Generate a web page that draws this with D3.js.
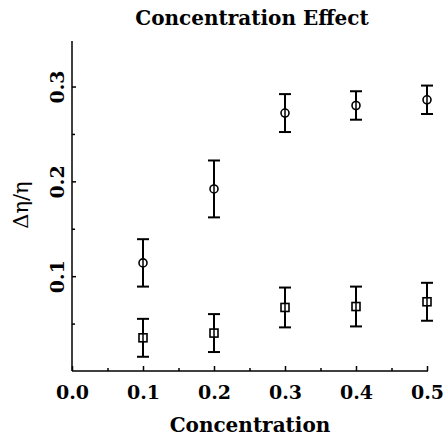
<!DOCTYPE html>
<html>
<head>
<meta charset="utf-8">
<script src="https://cdn.jsdelivr.net/npm/d3@7"></script>
<style>
	body { margin: 0; background: #fff; }
</style>
</head>
<body>
<div id="chart"></div>
<script>
// data
const concentrations = [0.1, 0.2, 0.3, 0.4, 0.5];
const circleValues = [0.114, 0.192, 0.272, 0.280, 0.286];
const circleErrors = [0.025, 0.030, 0.020, 0.015, 0.015];
const squareValues = [0.035, 0.040, 0.067, 0.068, 0.073];
const squareErrors = [0.020, 0.020, 0.021, 0.021, 0.020];
const xTicks = [0.0, 0.1, 0.2, 0.3, 0.4, 0.5];
const yTicks = [0.1, 0.2, 0.3];

const FONT = "'DejaVu Serif', serif";
const MARGIN = { LEFT: 72, RIGHT: 17, TOP: 41, BOTTOM: 67 };
const WIDTH = 445 - MARGIN.LEFT - MARGIN.RIGHT;
const HEIGHT = 438 - MARGIN.TOP - MARGIN.BOTTOM;

const svg = d3.select("#chart").append("svg")
	.attr("width", 445)
	.attr("height", 438)
	.attr("font-family", FONT);

const g = svg.append("g")
	.attr("transform", `translate(${MARGIN.LEFT}, ${MARGIN.TOP})`);

// scales
const x = d3.scaleLinear().domain([0, 0.5]).range([0, 355]);
const y = d3.scaleLinear().domain([0, 0.348]).range([HEIGHT, 0]);

// axes, ticks pointing inward
const xAxis = g.append("g")
	.attr("transform", `translate(0, ${HEIGHT})`)
	.call(d3.axisBottom(x).tickValues(xTicks).tickSize(-5).tickSizeOuter(0).tickFormat(d3.format(".1f")));
xAxis.select(".domain").attr("d", `M0,0H${WIDTH}`);
xAxis.selectAll(".tick text")
	.attr("y", 15)
	.attr("dy", "0.71em")
	.attr("font-size", "19px")
	.attr("font-weight", "bold");

const xMinor = g.append("g")
	.attr("transform", `translate(0, ${HEIGHT})`)
	.call(d3.axisBottom(x).tickValues([0.05, 0.15, 0.25, 0.35, 0.45]).tickSize(-3).tickSizeOuter(0).tickFormat(""));
xMinor.select(".domain").remove();

const yAxis = g.append("g")
	.call(d3.axisLeft(y).tickValues(yTicks).tickSize(-4).tickSizeOuter(0).tickFormat(d3.format(".1f")));
yAxis.select(".domain").attr("d", `M0,${HEIGHT}V0`);
yAxis.selectAll(".tick text")
	.attr("x", 0)
	.attr("dy", 0)
	.attr("text-anchor", "middle")
	.attr("transform", "rotate(-90)")
	.attr("y", -8)
	.attr("font-size", "19px")
	.attr("font-weight", "bold");

const yMinor = g.append("g")
	.call(d3.axisLeft(y).tickValues([0.05, 0.15, 0.25]).tickSize(-3).tickSizeOuter(0).tickFormat(""));
yMinor.select(".domain").remove();

g.selectAll("g").attr("font-family", FONT);
g.selectAll(".domain, .tick line")
	.attr("stroke", "#000")
	.attr("stroke-width", 1.5);

// title and labels
svg.append("text")
	.attr("x", 252)
	.attr("y", 25)
	.attr("text-anchor", "middle")
	.attr("font-size", "20px")
	.attr("font-weight", "bold")
	.text("Concentration Effect");

svg.append("text")
	.attr("x", 250)
	.attr("y", 432)
	.attr("text-anchor", "middle")
	.attr("font-size", "20px")
	.attr("font-weight", "bold")
	.text("Concentration");

svg.append("text")
	.attr("transform", "translate(28, 205) rotate(-90)")
	.attr("text-anchor", "middle")
	.attr("font-size", "21px")
	.text("Δη/η");

// error bars + markers
function drawSeries(values, errors, shape) {
	const data = concentrations.map((c, i) => ({ c: c, v: values[i], e: errors[i] }));
	const grp = g.append("g")
		.attr("stroke", "#000")
		.attr("stroke-width", 2)
		.attr("fill", "none");

	const bars = grp.selectAll(".bar").data(data).enter().append("g");
	bars.append("line")
		.attr("x1", d => x(d.c)).attr("x2", d => x(d.c))
		.attr("y1", d => y(d.v - d.e)).attr("y2", d => y(d.v + d.e));
	bars.append("line")
		.attr("x1", d => x(d.c) - 6).attr("x2", d => x(d.c) + 6)
		.attr("y1", d => y(d.v + d.e)).attr("y2", d => y(d.v + d.e));
	bars.append("line")
		.attr("x1", d => x(d.c) - 6).attr("x2", d => x(d.c) + 6)
		.attr("y1", d => y(d.v - d.e)).attr("y2", d => y(d.v - d.e));

	if (shape === "circle") {
		bars.append("circle")
			.attr("cx", d => x(d.c))
			.attr("cy", d => y(d.v))
			.attr("r", 4)
			.attr("fill", "#fff")
			.attr("stroke-width", 1.6);
	} else {
		bars.append("rect")
			.attr("x", d => x(d.c) - 4)
			.attr("y", d => y(d.v) - 4)
			.attr("width", 8)
			.attr("height", 8)
			.attr("fill", "#fff")
			.attr("stroke-width", 1.6);
	}
	// the vertical line shows through the marker in the figure
	bars.append("line")
		.attr("x1", d => x(d.c)).attr("x2", d => x(d.c))
		.attr("y1", d => y(d.v) - 4).attr("y2", d => y(d.v) + 4)
		.attr("stroke-width", 1.5);
}

drawSeries(circleValues, circleErrors, "circle");
drawSeries(squareValues, squareErrors, "square");
</script>
</body>
</html>
